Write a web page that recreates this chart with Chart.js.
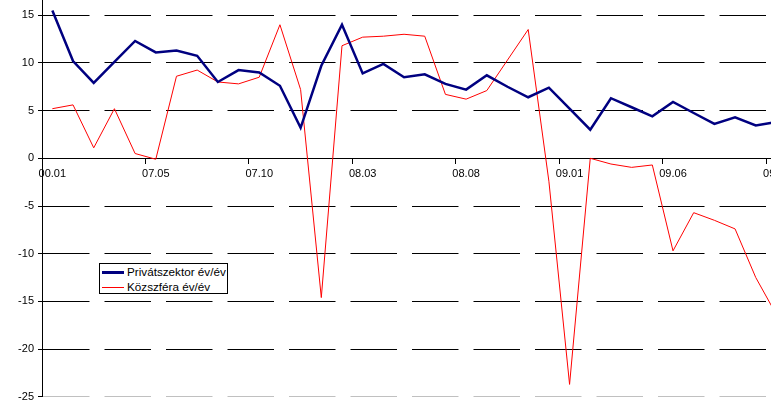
<!DOCTYPE html>
<html>
<head>
<meta charset="utf-8">
<script src="https://cdn.jsdelivr.net/npm/chart.js@4"></script>
<style>
  html, body { margin: 0; padding: 0; width: 771px; height: 416px; overflow: hidden; background: #fff; }
  #wrap { position: absolute; left: 0; top: -50px; width: 800px; height: 470px; }
  #legend {
    position: absolute; left: 99px; top: 263px; width: 127px; height: 29px;
    border: 1px solid #000; background: #fff;
    font-family: "Liberation Sans", Arial, sans-serif; font-size: 11.7px; color: #000;
  }
  #legend .row { position: absolute; left: 0; height: 14px; line-height: 14px; white-space: nowrap; }
  #legend .swatch { position: absolute; left: 2px; width: 22px; }
  #legend .label { position: absolute; left: 27px; }
</style>
</head>
<body>
<div id="wrap"><canvas id="chart" width="800" height="470"></canvas></div>
<div id="legend">
  <div class="row" style="top:1px"><div class="swatch" style="top:6px;height:2.5px;background:#000080"></div><span class="label">Privátszektor év/év</span></div>
  <div class="row" style="top:16px"><div class="swatch" style="top:7px;height:1px;background:#ff0000"></div><span class="label">Közszféra év/év</span></div>
</div>
<script>
const months = ['00.01',
  '07.01', '07.02', '07.03', '07.04', '07.05', '07.06', '07.07', '07.08', '07.09', '07.10', '07.11', '07.12',
  '08.01', '08.02', '08.03', '08.04', '08.05', '08.06', '08.07', '08.08', '08.09', '08.10', '08.11', '08.12',
  '09.01', '09.02', '09.03', '09.04', '09.05', '09.06', '09.07', '09.08', '09.09', '09.10', '09.11'];

const privat = [15.5, 10.2, 7.9, 10.1, 12.3, 11.1, 11.3, 10.75, 8.0, 9.25, 9.0, 7.6,
  3.2, 9.7, 14.0, 8.9, 9.9, 8.5, 8.8, 7.8, 7.2, 8.7, 7.5, 6.4,
  7.4, 5.2, 3.0, 6.3, 5.35, 4.4, 5.9, 4.75, 3.6, 4.3, 3.45, 3.8];

const kozszfera = [5.2, 5.6, 1.1, 5.2, 0.5, -0.1, 8.6, 9.25, 8.0, 7.8, 8.5, 14.0,
  7.2, -14.6, 11.8, 12.7, 12.8, 13.0, 12.8, 6.7, 6.2, 7.1, 10.3, 13.5,
  -2.4, -23.7, 0.0, -0.6, -0.95, -0.7, -9.7, -5.7, -6.5, -7.4, -12.5, -16.4];

const yMin = -25, yMax = 20, yStep = 5;

const font = { family: '"Liberation Sans", Arial, sans-serif', size: 11 };

new Chart(document.getElementById('chart'), {
  type: 'line',
  data: {
    labels: months,
    datasets: [
      {
        label: 'Privátszektor év/év',
        data: privat,
        borderColor: '#000080',
        borderWidth: 2.5,
        pointRadius: 0,
        tension: 0,
      },
      {
        label: 'Közszféra év/év',
        data: kozszfera,
        borderColor: '#ff0000',
        borderWidth: 1,
        pointRadius: 0,
        tension: 0,
      },
    ],
  },
  options: {
    responsive: false,
    animation: false,
    layout: { padding: { left: 0, right: 13.2, top: 17.5, bottom: 23.2 } },
    plugins: { legend: { display: false }, tooltip: { enabled: false } },
    scales: {
      x: {
        type: 'category',
        position: { y: 0 },
        offset: true,
        afterFit: (s) => { s.height = 0; },
        grid: {
          offset: true,
          drawOnChartArea: false,
          drawTicks: true,
          tickLength: 5,
          color: (ctx) => (ctx.index % 5 === 0 ? '#000' : 'rgba(0,0,0,0)'),
          tickColor: (ctx) => (ctx.index % 5 === 0 ? '#000' : 'rgba(0,0,0,0)'),
        },
        border: { display: true, color: '#000', width: 1 },
        ticks: {
          autoSkip: false,
          maxRotation: 0,
          padding: 4,
          color: '#000',
          font: font,
          callback: function (val, i) { return i % 5 === 0 ? months[i] : ''; },
        },
      },
      y: {
        min: yMin,
        max: yMax,
        afterFit: (s) => { s.width = 42; },
        grid: {
          drawTicks: true,
          tickLength: 4,
          lineWidth: 1,
          color: (ctx) => (ctx.tick && ctx.tick.value === yMin ? '#c0c0c0' : '#000'),
          tickColor: '#000',
          tickBorderDash: [],
        },
        border: { display: true, color: '#000', width: 1, dash: [46.5, 15] },
        ticks: {
          stepSize: yStep,
          padding: 4,
          color: '#000',
          font: font,
        },
      },
    },
  },
});
</script>
</body>
</html>
